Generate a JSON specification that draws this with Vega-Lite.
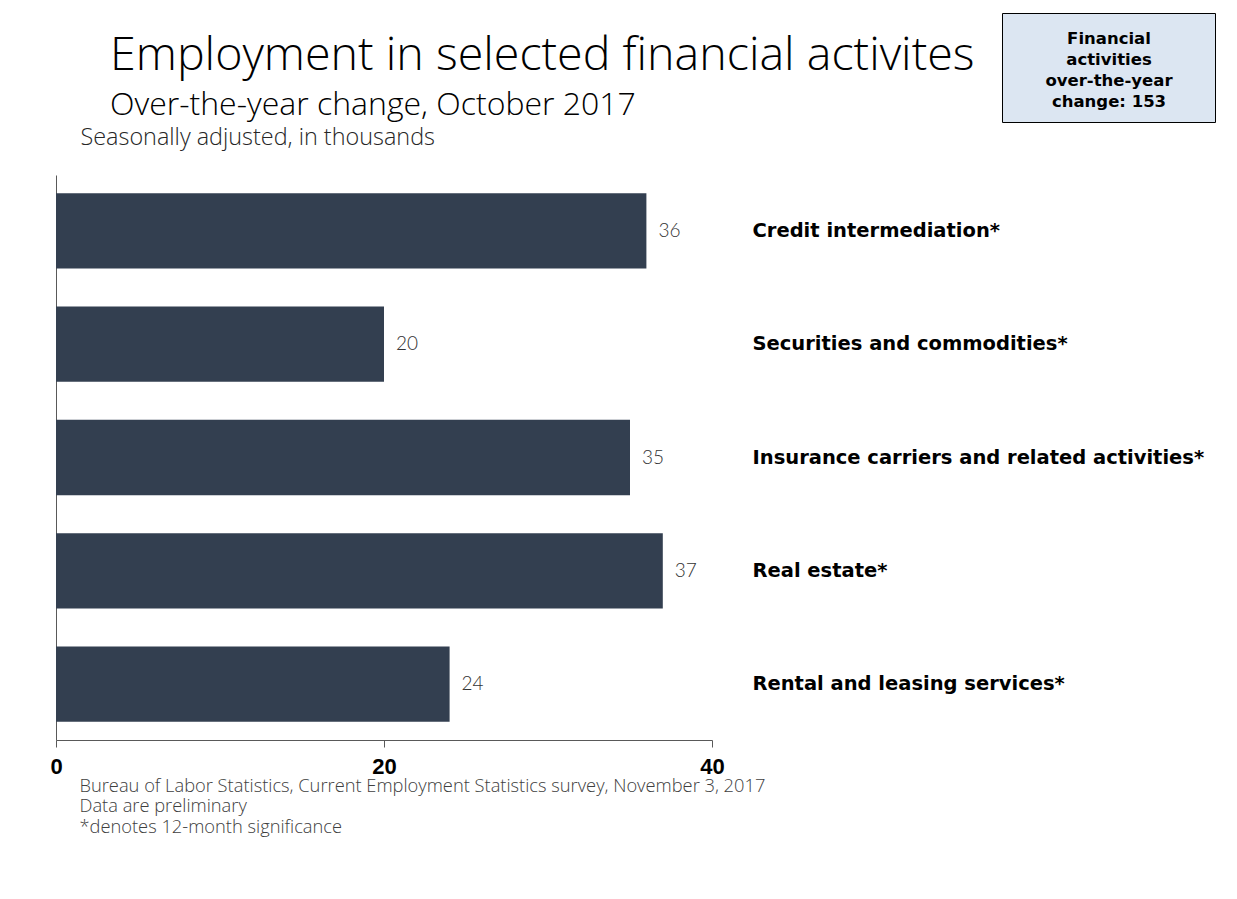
{
  "$schema": "https://vega.github.io/schema/vega-lite/v6.json",
  "autosize": {"type": "none"},
  "width": 656,
  "height": 565,
  "padding": {"left": 56, "top": 175, "right": 525, "bottom": 159},
  "background": "white",
  "config": {"view": {"stroke": null}},
  "title": {
    "text": "Employment in selected financial activites",
    "subtitle": "Over-the-year change, October 2017",
    "anchor": "start",
    "frame": "group",
    "dx": 54,
    "dy": 118,
    "font": "Open Sans",
    "fontSize": 46.6,
    "fontWeight": 300,
    "color": "#000000",
    "subtitleFont": "Open Sans",
    "subtitleFontSize": 32,
    "subtitleFontWeight": 300,
    "subtitleColor": "#000000",
    "subtitlePadding": 10,
    "offset": 10
  },
  "data": {
    "values": [
      {"industry": "Credit intermediation*", "change": 36},
      {"industry": "Securities and commodities*", "change": 20},
      {"industry": "Insurance carriers and related activities*", "change": 35},
      {"industry": "Real estate*", "change": 37},
      {"industry": "Rental and leasing services*", "change": 24}
    ]
  },
  "encoding": {
    "y": {
      "field": "industry",
      "type": "nominal",
      "sort": null,
      "scale": {"paddingInner": 0.336, "paddingOuter": 0.16}
    },
    "x": {
      "field": "change",
      "type": "quantitative",
      "scale": {"domain": [0, 40], "nice": false}
    }
  },
  "layer": [
    {
      "mark": {"type": "bar", "color": "#333F50"},
      "encoding": {
        "opacity": {
          "datum": "box",
          "scale": {"range": [1]},
          "legend": {
            "orient": "none",
            "legendX": 946,
            "legendY": -162,
            "title": ["Financial", "activities", "over-the-year", "change: 153"],
            "titleFont": "DejaVu Sans",
            "titleFontSize": 16.5,
            "titleFontWeight": "bold",
            "titleColor": "#000000",
            "titleAlign": "center",
            "titleAnchor": "middle",
            "titleLineHeight": 21,
            "titleOrient": "bottom",
            "titlePadding": 6,
            "fillColor": "#DCE6F2",
            "strokeColor": "#000000",
            "padding": 11,
            "symbolSize": 0,
            "symbolOpacity": 0,
            "symbolStrokeWidth": 0,
            "labelExpr": "''",
            "labelFontSize": 1,
            "labelOffset": 190
          }
        },
        "y": {
          "field": "industry",
          "type": "nominal",
          "sort": null,
          "axis": {
            "orient": "left",
            "labels": false,
            "ticks": false,
            "domain": true,
            "domainColor": "#595959",
            "domainWidth": 1,
            "title": "Seasonally adjusted, in thousands",
            "titleAngle": 0,
            "titleAlign": "left",
            "titleBaseline": "alphabetic",
            "titleX": 24,
            "titleY": -31,
            "titleFont": "Open Sans",
            "titleFontSize": 23.4,
            "titleFontWeight": 300,
            "titleColor": "#262626"
          }
        },
        "x": {
          "field": "change",
          "type": "quantitative",
          "axis": {
            "values": [0, 20, 40],
            "grid": false,
            "domainColor": "#595959",
            "tickColor": "#595959",
            "tickSize": 7,
            "labelFont": "Liberation Sans",
            "labelFontSize": 22,
            "labelFontWeight": "bold",
            "labelColor": "#000000",
            "labelPadding": 9,
            "labelFlush": false,
            "title": [
              "Bureau of Labor Statistics, Current Employment Statistics survey, November 3, 2017",
              "Data are preliminary",
              "*denotes 12-month significance"
            ],
            "titleAnchor": "start",
            "titleAlign": "left",
            "titleBaseline": "top",
            "titleX": 23,
            "titleY": 37,
            "titleFont": "Open Sans",
            "titleFontSize": 18.3,
            "titleFontWeight": 300,
            "titleColor": "#404040",
            "titleLineHeight": 20.5
          }
        }
      }
    },
    {
      "mark": {
        "type": "text",
        "align": "left",
        "baseline": "middle",
        "dx": 12,
        "font": "Lato",
        "fontSize": 19,
        "fontWeight": 300,
        "color": "#333333"
      },
      "encoding": {
        "text": {"field": "change", "type": "quantitative"},
        "y": {
          "field": "industry",
          "type": "nominal",
          "sort": null,
          "axis": {
            "orient": "right",
            "domain": false,
            "ticks": false,
            "labelPadding": 40,
            "labelFont": "DejaVu Sans",
            "labelFontSize": 19.5,
            "labelFontWeight": "bold",
            "labelColor": "#000000",
            "labelLimit": 600,
            "title": null
          }
        }
      }
    }
  ],
  "resolve": {"axis": {"y": "independent"}}
}
